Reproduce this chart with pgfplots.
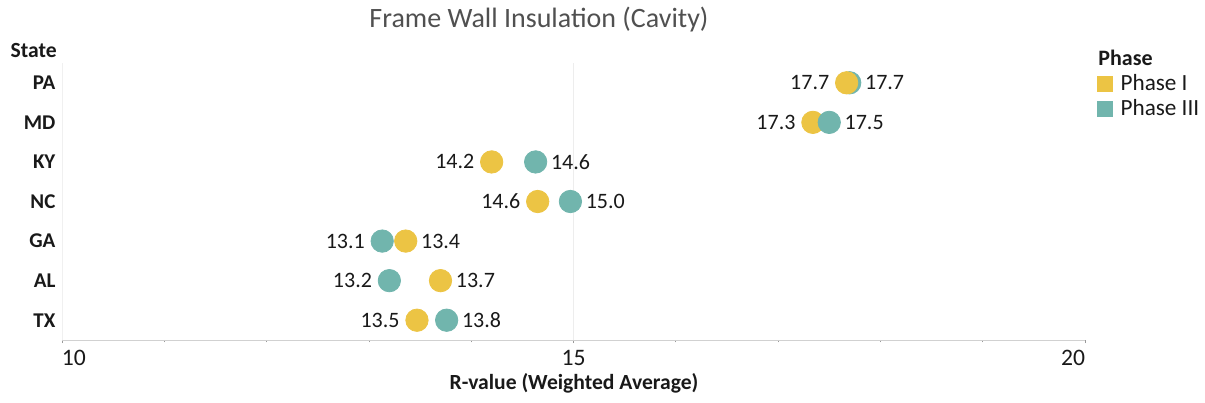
\documentclass[border=0pt]{standalone}
\usepackage{pgfplots}
\pgfplotsset{compat=1.18}
\usepackage{fontspec}
\setmainfont{Carlito}
\definecolor{cyel}{RGB}{236,196,68}
\definecolor{cteal}{RGB}{113,181,173}
\definecolor{ctxt}{RGB}{25,25,25}
\definecolor{ctitle}{RGB}{80,80,80}
\begin{document}
\begin{tikzpicture}
\path[use as bounding box] (0,0) rectangle (602.5pt,201pt);
\begin{axis}[
  at={(31pt,31pt)}, anchor=south west,
  scale only axis, width=511.5pt, height=138.5pt,
  xmin=10, xmax=20, ymin=0.5, ymax=7.5,
  axis x line*=bottom, axis y line*=left,
  x axis line style={color=black!18},
  y axis line style={color=black!6},
  xtick={10,15,20},
  xticklabels={\makebox[0pt][l]{10},15,\makebox[0pt][r]{20}},
  minor xtick={11,12,13,14,16,17,18,19},
  tick align=outside,
  x tick style={color=black!40, thin},
  major tick length=1.6pt, minor tick length=1.2pt,
  extra x ticks={15},
  extra x tick labels={},
  extra x tick style={grid=major, major grid style={color=black!7, thin}, major tick length=0pt},
  ytick={1,2,3,4,5,6,7},
  yticklabels={TX,AL,GA,NC,KY,MD,PA},
  y tick style={draw=none},
  yticklabel style={anchor=east, inner sep=0pt, xshift=-1.5pt, font=\fontsize{10.5}{12}\selectfont\bfseries, text=ctxt},
  xticklabel style={yshift=-0.2pt, font=\fontsize{11.8}{13}\selectfont, text=ctxt},
  clip=false,
  point meta=explicit symbolic,
  nodes near coords={\pgfplotspointmeta},
  every node near coord/.append style={font=\fontsize{11}{12}\selectfont, text=ctxt, inner sep=0pt},
  legend style={at={(1.0117,0.9675)}, anchor=north west, draw=none, fill=none,
    inner sep=0pt, row sep=0.9pt, font=\fontsize{11.6}{12}\selectfont, text=ctxt,
    nodes={inner sep=1pt},
    /tikz/every even column/.append style={column sep=0pt}},
  legend cell align=left,
  legend image code/.code={\fill[#1] (0pt,-3.6pt) rectangle (7.2pt,3.6pt);},
]
% legend entries
\addlegendimage{cyel}
\addlegendentry{\hspace{3pt}Phase I}
\addlegendimage{cteal}
\addlegendentry{\hspace{3pt}Phase III}
% Phase III (teal), label right
\addplot[only marks, mark=*, mark size=5.6pt, color=cteal, mark options={draw=none, fill=cteal},
  nodes near coords style={anchor=west, xshift=7.5pt}]
  coordinates {(17.70,7) [17.7] (14.63,5) [14.6] (14.97,4) [15.0] (13.76,1) [13.8]};
% Phase III (teal), label left
\addplot[only marks, mark=*, mark size=5.6pt, color=cteal, mark options={draw=none, fill=cteal},
  nodes near coords style={anchor=east, xshift=-8.5pt}]
  coordinates {(13.13,3) [13.1] (13.20,2) [13.2]};
% Phase I (yellow), label left
\addplot[only marks, mark=*, mark size=5.6pt, color=cyel, mark options={draw=none, fill=cyel},
  nodes near coords style={anchor=east, xshift=-8.5pt}]
  coordinates {(17.67,7) [17.7] (17.34,6) [17.3] (14.20,5) [14.2] (14.65,4) [14.6] (13.47,1) [13.5]};
% Phase I (yellow), label right
\addplot[only marks, mark=*, mark size=5.6pt, color=cyel, mark options={draw=none, fill=cyel},
  nodes near coords style={anchor=west, xshift=7.5pt}]
  coordinates {(13.36,3) [13.4] (13.70,2) [13.7]};
% Phase III (teal) MD, drawn on top
\addplot[only marks, mark=*, mark size=5.6pt, color=cteal, mark options={draw=none, fill=cteal},
  nodes near coords style={anchor=west, xshift=7.5pt}]
  coordinates {(17.50,6) [17.5]};
\end{axis}
\node[anchor=center, text=ctitle, font=\fontsize{14}{16}\selectfont] at (269.5pt,191pt) {Frame Wall Insulation (Cavity)};
\node[anchor=east, inner sep=0pt, text=ctxt, font=\fontsize{10.8}{12}\selectfont\bfseries] at (28.5pt,176pt) {State};
\node[anchor=center, inner sep=0pt, text=ctxt, font=\fontsize{10.8}{12}\selectfont\bfseries] at (287pt,9.5pt) {R-value (Weighted Average)};
\node[anchor=west, inner sep=0pt, text=ctxt, font=\fontsize{11}{12}\selectfont\bfseries] at (549pt,172pt) {Phase};
\end{tikzpicture}
\end{document}
